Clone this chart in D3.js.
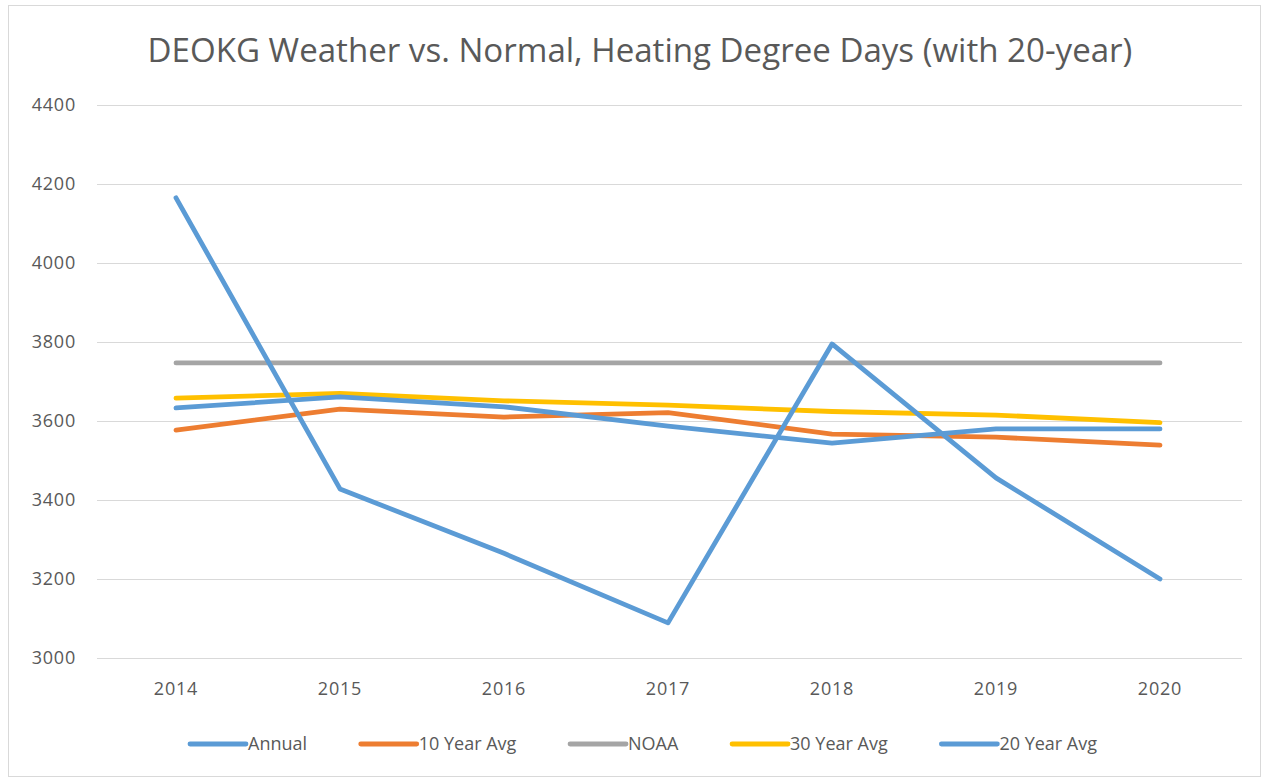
<!DOCTYPE html>
<html>
<head>
<meta charset="utf-8">
<script src="https://cdn.jsdelivr.net/npm/d3@7"></script>
<style>
  html, body { margin: 0; padding: 0; background: #fff; }
  svg { display: block; }
  text { font-family: "Open Sans", "Noto Sans", sans-serif; }
</style>
</head>
<body>
<svg id="chart" width="1267" height="783"></svg>
<script>
const years = ["2014", "2015", "2016", "2017", "2018", "2019", "2020"];
const yTicks = [3000, 3200, 3400, 3600, 3800, 4000, 4200, 4400];
const annual = [4165, 3428, 3265, 3089, 3795, 3456, 3200];
const avg10 = [3577, 3630, 3610, 3621, 3567, 3559, 3539];
const noaa = [3747, 3747, 3747, 3747, 3747, 3747, 3747];
const avg30 = [3658, 3670, 3651, 3640, 3624, 3615, 3596];
const avg20 = [3633, 3661, 3636, 3587, 3544, 3580, 3580];
const title = "DEOKG Weather vs. Normal, Heating Degree Days (with 20-year)";

const series = [
  { name: "Annual", values: annual, color: "#5b9bd5" },
  { name: "10 Year Avg", values: avg10, color: "#ed7d31" },
  { name: "NOAA", values: noaa, color: "#a5a5a5" },
  { name: "30 Year Avg", values: avg30, color: "#ffc000" },
  { name: "20 Year Avg", values: avg20, color: "#5b9bd5" }
];

const svg = d3.select("#chart");

// outer border
svg.append("rect").attr("x", 8.5).attr("y", 5.5).attr("width", 1252).attr("height", 771)
  .attr("fill", "#fff").attr("stroke", "#d9d9d9").attr("stroke-width", 1);

const x = d3.scaleBand().domain(years).range([94, 1242]).padding(0);
const y = d3.scaleLinear().domain([3000, 4400]).range([658, 105]);

// gridlines
const grid = svg.append("g")
  .attr("transform", "translate(97,0)")
  .call(d3.axisLeft(y).tickValues(yTicks).tickSize(-(1242 - 97)).tickFormat(""));
grid.select(".domain").remove();
grid.selectAll(".tick line").attr("stroke", "#d9d9d9").attr("stroke-width", 1);

// y labels
const yAxis = svg.append("g").attr("transform", "translate(76,0)")
  .call(d3.axisLeft(y).tickValues(yTicks).tickSize(0).tickPadding(0).tickFormat(d3.format("d")));
yAxis.select(".domain").remove();
yAxis.selectAll("text").attr("font-size", 18).attr("fill", "#595959")
  .attr("letter-spacing", 0.8)
  .style("font-family", "'Open Sans', sans-serif");

// x labels
const xAxis = svg.append("g").attr("transform", "translate(0,678)")
  .call(d3.axisBottom(x).tickSize(0).tickPadding(0));
xAxis.select(".domain").remove();
xAxis.selectAll("text").attr("font-size", 18).attr("fill", "#595959")
  .attr("letter-spacing", 0.8)
  .attr("dy", "0.95em").style("font-family", "'Open Sans', sans-serif");

// lines
const line = d3.line()
  .x((d, i) => x(years[i]) + x.bandwidth() / 2)
  .y(d => y(d));

const drawOrder = [2, 3, 1, 4, 0];
drawOrder.forEach(k => {
  const s = series[k];
  svg.append("path").datum(s.values)
    .attr("d", line)
    .attr("fill", "none")
    .attr("stroke", s.color)
    .attr("stroke-width", 4.8)
    .attr("stroke-linejoin", "round")
    .attr("stroke-linecap", "round");
});

// title (fit to measured width)
const t = svg.append("text").attr("x", 640).attr("y", 62)
  .attr("text-anchor", "middle").attr("fill", "#595959").attr("font-size", 28)
  .text(title);
const w = t.node().getComputedTextLength();
t.attr("font-size", 28 * 985 / w);

// legend
const leg = svg.append("g").attr("transform", "translate(190,744)");
const groups = [];
let sumW = 0;
series.forEach(s => {
  const g = leg.append("g");
  g.append("line").attr("x1", 0).attr("x2", 56).attr("y1", 0).attr("y2", 0)
    .attr("stroke", s.color).attr("stroke-width", 4.8).attr("stroke-linecap", "round");
  const tx = g.append("text").attr("x", 58).attr("y", 0).attr("dy", "0.35em")
    .attr("font-size", 18).attr("fill", "#595959").text(s.name);
  const tw = 58 + tx.node().getComputedTextLength();
  groups.push({ g, tw });
  sumW += tw;
});
const gap = (907 - sumW) / (series.length - 1);
let cx = 0;
groups.forEach(o => {
  o.g.attr("transform", `translate(${cx},0)`);
  cx += o.tw + gap;
});
</script>
</body>
</html>
